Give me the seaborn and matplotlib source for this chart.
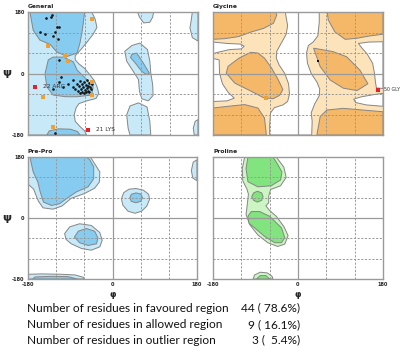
import numpy as np
import pandas as pd
import matplotlib
matplotlib.use("Agg")
import matplotlib.pyplot as plt
import seaborn as sns

sns.set_style("white")
plt.rcParams['font.family'] = ['DejaVu Sans']

# ---------------- axes / grid values ----------------
GRID_DASHED = [-120, -60, 60, 120]
TICKS = [-180, 0, 180]
TICK_LABELS = ['-180', '0', '180']
PANEL_TITLES = ['General', 'Glycine', 'Pre-Pro', 'Proline']

# ---------------- General regions (phi, psi) ----------------
gen_allowed_left = [(-180, 180), (-45, 180), (-38, 160), (-34, 135), (-42, 115), (-55, 92), (-68, 70),
                    (-80, 52), (-80, 40), (-72, 28), (-60, 15), (-50, -2), (-40, -20), (-34, -38),
                    (-30, -58), (-36, -73), (-55, -80), (-72, -88), (-78, -100), (-82, -120), (-80, -140),
                    (-70, -155), (-60, -168), (-56, -180), (-180, -180)]
gen_allowed_lalpha = [(57, 89), (40, 82), (25, 65), (29, 36), (43, 6), (54, -18), (56, -52), (61, -74),
                      (75, -80), (85, -64), (84, -33), (80, 1), (78, 36), (73, 70)]
gen_allowed_top = [(52, 180), (56, 165), (65, 148), (78, 150), (84, 165), (86, 180)]
gen_allowed_bottom = [(36, -180), (32, -160), (29, -121), (36, -95), (54, -86), (72, -98), (78, -140), (80, -180)]
gen_allowed_edge_top = [(180, 180), (168, 180), (166, 160), (163, 133), (168, 105), (180, 95)]
gen_allowed_edge_bot = [(180, -180), (172, -180), (170, -160), (174, -140), (180, -135)]
gen_fav_beta = [(-176, 180), (-169, 127), (-155, 98), (-133, 85), (-119, 63), (-97, 50), (-76, 60),
                (-70, 89), (-66, 118), (-63, 147), (-60, 180)]
gen_fav_alpha = [(-137, 40), (-144, -1), (-140, -39), (-127, -63), (-100, -68), (-76, -68), (-45, -63),
                 (-42, -39), (-59, -13), (-76, 10), (-84, 34), (-105, 48), (-127, 48)]
gen_fav_bottom = [(-140, -180), (-135, -168), (-115, -162), (-90, -163), (-75, -170), (-70, -180)]
gen_fav_lalpha = [(40, 56), (50, 60), (64, 31), (77, 1), (71, -3), (61, 6), (47, 31), (37, 47)]

# ---------------- Glycine regions ----------------
gly_white_center = [(-27, 180), (-22, 140), (-25, 115), (-35, 90), (-45, 65), (-46, 45), (-40, 25),
                    (-28, 0), (-20, -30), (-18, -60), (-22, -82), (-32, -92), (-50, -100), (-58, -115),
                    (-60, -150), (-60, -180), (29, -180), (30, -140), (28, -115), (35, -90), (45, -65),
                    (46, -45), (40, -25), (28, 0), (20, 30), (18, 60), (22, 82), (32, 92), (42, 110),
                    (45, 150), (45, 180)]
gly_white_left = [(-180, 44), (-167, 40), (-166, 0), (-160, -30), (-148, -55), (-135, -72), (-150, -80),
                  (-180, -82)]
gly_white_left_tongue = [(-180, 92), (-150, 88), (-122, 86), (-114, 80), (-120, 72), (-145, 70),
                         (-170, 62), (-180, 58)]
gly_white_right = [(180, 93), (150, 92), (128, 88), (135, 75), (146, 58), (158, 30), (162, 0),
                   (164, -25), (166, -42), (180, -44)]
gly_white_right_tongue = [(180, -58), (160, -62), (135, -68), (118, -75), (122, -85), (145, -92), (180, -96)]
gly_fav_topleft = [(-180, 180), (-180, 100), (-155, 102), (-126, 108), (-98, 122), (-73, 132),
                   (-52, 147), (-45, 171), (-47, 180)]
gly_fav_midleft = [(-148, 21), (-152, 1), (-134, -28), (-99, -52), (-74, -70), (-53, -74), (-39, -64),
                   (-32, -47), (-42, -18), (-56, 16), (-71, 45), (-85, 60), (-100, 62), (-125, 45)]
gly_fav_botleft = [(-180, -180), (-180, -101), (-148, -96), (-113, -91), (-85, -101), (-71, -130),
                   (-67, -180)]
gly_fav_topright = [(62, 180), (64, 157), (78, 122), (100, 100), (124, 103), (152, 110), (180, 115),
                    (180, 180)]
gly_fav_midright = [(33, 74), (47, 20), (68, -19), (96, -43), (125, -50), (148, -30), (131, 10),
                    (103, 49), (74, 64), (50, 70)]
gly_fav_botright = [(40, -180), (47, -126), (61, -107), (96, -102), (138, -107), (180, -112), (180, -180)]

# ---------------- Pre-Pro regions ----------------
pre_allowed_topleft = [(-180, 180), (-47, 180), (-38, 160), (-27, 136), (-28, 106), (-38, 88), (-60, 72),
                       (-88, 58), (-108, 35), (-127, 26), (-148, 30), (-158, 50), (-168, 85), (-180, 100)]
pre_fav_topleft = [(-176, 180), (-169, 136), (-159, 106), (-154, 77), (-147, 47), (-130, 37), (-113, 42),
                   (-98, 57), (-77, 77), (-52, 92), (-40, 116), (-40, 151), (-49, 173), (-56, 180)]
pre_allowed_lalpha = [(19, 57), (24, 75), (35, 85), (50, 87), (66, 82), (77, 70), (79, 55), (73, 35),
                      (62, 20), (48, 14), (33, 20), (22, 38)]
pre_fav_lalpha = [(37, 60), (40, 70), (50, 74), (60, 71), (64, 60), (60, 49), (50, 45), (40, 49)]
pre_allowed_alpha = [(-102, -46), (-91, -26), (-70, -17), (-45, -22), (-27, -43), (-22, -66), (-27, -85),
                     (-45, -95), (-66, -90), (-88, -76), (-99, -63)]
pre_fav_alpha = [(-81, -56), (-73, -39), (-56, -31), (-38, -39), (-31, -59), (-34, -76), (-52, -81),
                 (-70, -73)]
pre_allowed_bottom = [(-180, -180), (-180, -166), (-150, -165), (-110, -166), (-80, -168), (-62, -175),
                      (-60, -180)]
pre_fav_bottom = [(-170, -180), (-165, -174), (-130, -172), (-95, -173), (-75, -180)]
pre_allowed_edge = [(180, 172), (172, 165), (168, 140), (171, 118), (180, 110)]

# ---------------- Proline regions ----------------
pro_allowed = [(-113, 180), (-46, 180), (-30, 150), (-25, 120), (-37, 95), (-58, 84), (-62, 65),
               (-62, 45), (-68, 36), (-60, 22), (-46, 5), (-30, -25), (-21, -52), (-28, -77), (-43, -84),
               (-64, -73), (-85, -50), (-102, -20), (-110, 10), (-107, 45), (-105, 70), (-108, 85),
               (-117, 110), (-118, 146)]
pro_fav_top = [(-106, 180), (-110, 146), (-106, 107), (-85, 92), (-57, 95), (-37, 112), (-34, 136),
               (-46, 165), (-53, 180)]
pro_fav_circle = [(-98, 63), (-94, 74), (-86, 79), (-77, 74), (-74, 63), (-77, 52), (-86, 47), (-94, 52)]
pro_fav_alpha = [(-106, 5), (-99, 19), (-81, 19), (-60, 5), (-35, -29), (-28, -58), (-35, -73),
                 (-49, -73), (-71, -54), (-92, -29), (-104, -15)]
pro_allowed_bottom = [(-95, -180), (-92, -168), (-80, -160), (-65, -162), (-55, -172), (-53, -180)]
pro_fav_bottom = [(-88, -180), (-80, -170), (-68, -170), (-60, -180)]

# ---------------- residues ----------------
gen_fav_phi = [-130, -132, -142, -119, -114, -155, -145, -123, -126, -116, -114, -110, -126, -123,
               -84, -95, -105, -115,
               -70, -62, -55, -50, -66, -58, -52, -72, -64, -56, -48, -68, -60, -54, -74, -66, -58,
               -50, -62, -70, -46, -80, -85, -44, -76]
gen_fav_psi = [171, 166, 161, 137, 137, 122, 116, 122, 110, 100, 40, -9, -46, -175,
               -20, -30, -40, -25,
               -22, -25, -20, -28, -30, -33, -36, -38, -40, -42, -40, -46, -47, -50, -50, -53, -55,
               -54, -58, -57, -46, -44, -40, -32, -30]
gen_allowed_phi = [-45, -137, -102, -95, -45, -45, -149, -126]
gen_allowed_psi = [160, 81, 52, 37, -24, -63, -68, -156]
gen_outlier_phi = [-165, -52]
gen_outlier_psi = [-39, -165]
gen_outlier_labels = ['22 ARG', '21 LYS']

gly_fav_phi = [43]
gly_fav_psi = [37]
gly_allowed_phi = [-68]
gly_allowed_psi = [-73]
gly_outlier_phi = [170]
gly_outlier_psi = [-48]
gly_outlier_labels = ['50 GLY']

SUMMARY_LABELS = ['Number of residues in favoured region',
                  'Number of residues in allowed region',
                  'Number of residues in outlier region']
SUMMARY_COUNTS = [44, 9, 3]
SUMMARY_PCTS = [78.6, 16.1, 5.4]

# ---------------- colours ----------------
BLUE_DARK, BLUE_LIGHT = '#86ccf0', '#c8e9f8'
ORANGE_DARK, ORANGE_LIGHT = '#f4b868', '#fde3ba'
GREEN_DARK, GREEN_LIGHT = '#82e47e', '#cdf5c4'
EDGE = '#858585'
GRIDC = '#9a9a9a'

W, H = 401, 350
fig = plt.figure(figsize=(W / 100, H / 100), dpi=100)


def px_axes(x0, y0, x1, y1):
    return fig.add_axes([x0 / W, 1 - y1 / H, (x1 - x0) / W, (y1 - y0) / H])


def poly(ax, pts, fc, z=1):
    ph = [p[0] for p in pts]
    ps = [p[1] for p in pts]
    ax.fill(ph, ps, facecolor=fc, edgecolor=EDGE, linewidth=0.7, zorder=z, joinstyle='round')


def setup(ax, title, bg='white', yt=False, xt=False):
    ax.set_xlim(-180, 180)
    ax.set_ylim(-180, 180)
    ax.set_facecolor(bg)
    for s in ax.spines.values():
        s.set_color('#9a9a9a')
        s.set_linewidth(1.0)
        s.set_zorder(6)
    for g in GRID_DASHED:
        ax.axvline(g, color=GRIDC, lw=0.7, ls=(0, (2.2, 1.6)), zorder=4)
        ax.axhline(g, color=GRIDC, lw=0.7, ls=(0, (2.2, 1.6)), zorder=4)
    ax.axvline(0, color=GRIDC, lw=0.9, zorder=4)
    ax.axhline(0, color=GRIDC, lw=0.9, zorder=4)
    ax.set_xticks(TICKS)
    ax.set_yticks(TICKS)
    ax.tick_params(length=0, labelsize=3.6, pad=2.5)
    if yt:
        ax.set_yticklabels(['-180', '0', '180'], fontweight='bold')
        ax.set_ylabel('ψ', rotation=0, fontsize=8, fontweight='bold', labelpad=4, va='center')
    else:
        ax.set_yticklabels([])
        ax.set_ylabel('')
    if xt:
        ax.set_xticklabels(TICK_LABELS, fontweight='bold')
        ax.set_xlabel('φ', fontsize=6, fontweight='bold', labelpad=1.5)
    else:
        ax.set_xticklabels([])
        ax.set_xlabel('')
    ax.text(0.0, 1.025, title, transform=ax.transAxes, ha='left', va='bottom',
            fontsize=4.3, fontweight='bold', color='#222222')


def points(ax, ph, ps, color, marker, size):
    df = pd.DataFrame({'phi': ph, 'psi': ps})
    sns.scatterplot(data=df, x='phi', y='psi', ax=ax, color=color, marker=marker, s=size,
                    linewidth=0, zorder=8, legend=False)


# ---------------- General ----------------
axG = px_axes(28, 12, 198, 135)
for p in [gen_allowed_left, gen_allowed_lalpha, gen_allowed_top, gen_allowed_bottom,
          gen_allowed_edge_top, gen_allowed_edge_bot]:
    poly(axG, p, BLUE_LIGHT, 1)
for p in [gen_fav_beta, gen_fav_alpha, gen_fav_bottom, gen_fav_lalpha]:
    poly(axG, p, BLUE_DARK, 2)
points(axG, gen_fav_phi, gen_fav_psi, '#111111', 'o', 3.5)
points(axG, gen_allowed_phi, gen_allowed_psi, '#f0a030', 's', 6)
points(axG, gen_outlier_phi, gen_outlier_psi, '#e8202a', 's', 7)
setup(axG, 'General', yt=True)
for ph, ps, lab in zip(gen_outlier_phi, gen_outlier_psi, gen_outlier_labels):
    axG.annotate(lab, (ph, ps), xytext=(5.5, 0), textcoords='offset points', fontsize=4.2,
                 va='center', ha='left', color='#333333', zorder=9)

# ---------------- Glycine ----------------
axY = px_axes(213, 12, 383, 135)
for p in [gly_white_center, gly_white_left, gly_white_left_tongue, gly_white_right, gly_white_right_tongue]:
    poly(axY, p, 'white', 1)
for p in [gly_fav_topleft, gly_fav_midleft, gly_fav_botleft, gly_fav_topright, gly_fav_midright,
          gly_fav_botright]:
    poly(axY, p, ORANGE_DARK, 2)
points(axY, gly_fav_phi, gly_fav_psi, '#111111', 's', 4)
points(axY, gly_allowed_phi, gly_allowed_psi, '#f0a030', 's', 5)
points(axY, gly_outlier_phi, gly_outlier_psi, '#e8202a', 's', 7)
setup(axY, 'Glycine', bg=ORANGE_LIGHT)
for ph, ps, lab in zip(gly_outlier_phi, gly_outlier_psi, gly_outlier_labels):
    axY.annotate(lab, (ph, ps), xytext=(4, 0), textcoords='offset points', fontsize=3.4,
                 va='center', ha='left', color='#333333', zorder=9, annotation_clip=False)

# ---------------- Pre-Pro ----------------
axP = px_axes(28, 157, 197, 279)
for p in [pre_allowed_topleft, pre_allowed_lalpha, pre_allowed_alpha, pre_allowed_bottom, pre_allowed_edge]:
    poly(axP, p, BLUE_LIGHT, 1)
for p in [pre_fav_topleft, pre_fav_lalpha, pre_fav_alpha, pre_fav_bottom]:
    poly(axP, p, BLUE_DARK, 2)
setup(axP, 'Pre-Pro', yt=True, xt=True)

# ---------------- Proline ----------------
axR = px_axes(213, 157, 383, 279)
for p in [pro_allowed, pro_allowed_bottom]:
    poly(axR, p, GREEN_LIGHT, 1)
for p in [pro_fav_top, pro_fav_circle, pro_fav_alpha, pro_fav_bottom]:
    poly(axR, p, GREEN_DARK, 2)
setup(axR, 'Proline', xt=True)

# ---------------- summary text ----------------
line_y = [308, 324.5, 340]
for lab, n, pct, yy in zip(SUMMARY_LABELS, SUMMARY_COUNTS, SUMMARY_PCTS, line_y):
    fig.text(27 / W, 1 - yy / H, lab, fontsize=8.6, family=['Lato', 'DejaVu Sans'],
             ha='left', va='center', color='#111111')
    fig.text(300 / W, 1 - yy / H, f'{n} ( {pct:4.1f}%)', fontsize=8.6, family=['Lato', 'DejaVu Sans'],
             ha='right', va='center', color='#111111')

fig.savefig('out.png', dpi=100)
